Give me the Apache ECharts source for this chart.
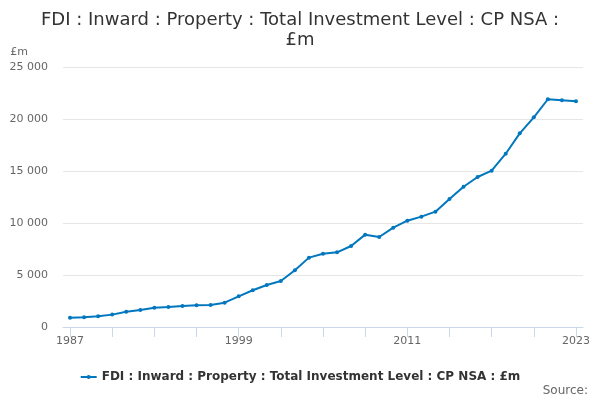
<!DOCTYPE html>
<html>
<head>
<meta charset="utf-8">
<style type="text/css">
html, body{margin: 0; padding: 0; background: #fff;}
.charts{width: 600px; height: 400px;}
</style>
</head>
<body>
<div class="charts" id="fdi"></div>
<script src="https://cdn.jsdelivr.net/npm/echarts@6/dist/echarts.min.js"></script>
<script type="text/javascript">
var years = ['1987','1988','1989','1990','1991','1992','1993','1994','1995','1996',
    '1997','1998','1999','2000','2001','2002','2003','2004','2005','2006',
    '2007','2008','2009','2010','2011','2012','2013','2014','2015','2016',
    '2017','2018','2019','2020','2021','2022','2023'];
var investment = [900, 930, 1030, 1190, 1470, 1630, 1860, 1920, 2020, 2080,
    2115, 2340, 2950, 3530, 4040, 4420, 5450, 6670, 7050, 7180,
    7790, 8880, 8650, 9550, 10220, 10610, 11090, 12310, 13490, 14420,
    15030, 16660, 18620, 20160, 21900, 21800, 21700];
var seriesName = 'FDI : Inward : Property : Total Investment Level : CP NSA : £m';
var yTicks = [0, 5000, 10000, 15000, 20000, 25000];

var fdiChart = echarts.init(document.getElementById('fdi'));
var option = {
    animation: false,
    textStyle: {fontFamily: 'DejaVu Sans'},
    title: [{
        text: 'FDI : Inward : Property : Total Investment Level : CP NSA :\n£m',
        left: 'center',
        top: 5,
        textStyle: {fontSize: 18, fontWeight: 'normal', color: '#333', lineHeight: 20, fontFamily: 'DejaVu Sans'}
    }, {
        text: 'Source:',
        right: 7,
        top: 380,
        textStyle: {fontSize: 12, fontWeight: 'normal', color: '#666', fontFamily: 'DejaVu Sans'}
    }],
    legend: {
        data: [seriesName],
        left: 'center',
        top: 366,
        itemWidth: 16,
        itemHeight: 5,
        itemGap: 5,
        textStyle: {fontSize: 12, fontWeight: 'bold', color: '#333', fontFamily: 'DejaVu Sans'}
    },
    grid: {left: 63, right: 17, top: 67, bottom: 73},
    xAxis: {
        type: 'category',
        data: years,
        boundaryGap: true,
        axisLine: {lineStyle: {color: '#ccd6eb'}},
        axisTick: {show: true, alignWithLabel: true, interval: 2, length: 10, lineStyle: {color: '#ccd6eb'}},
        axisLabel: {interval: 11, color: '#666', fontSize: 11, margin: 9}
    },
    yAxis: {
        type: 'value',
        min: yTicks[0],
        max: yTicks[yTicks.length - 1],
        interval: 5000,
        name: '£m',
        nameLocation: 'end',
        nameGap: 9,
        nameTextStyle: {color: '#666', fontSize: 11, align: 'right', padding: [0, 35, 0, 0]},
        axisLine: {show: false},
        axisTick: {show: false},
        axisLabel: {
            color: '#666', fontSize: 11, margin: 15,
            formatter: function (v) { return String(v).replace(/\B(?=(\d{3})+(?!\d))/g, ' '); }
        },
        splitLine: {lineStyle: {color: '#e6e6e6'}}
    },
    series: [{
        name: seriesName,
        type: 'line',
        data: investment,
        symbol: 'circle',
        symbolSize: 4,
        lineStyle: {width: 2, color: '#0077bf'},
        itemStyle: {color: '#0077bf'}
    }]
};
fdiChart.setOption(option);
</script>
</body>
</html>
